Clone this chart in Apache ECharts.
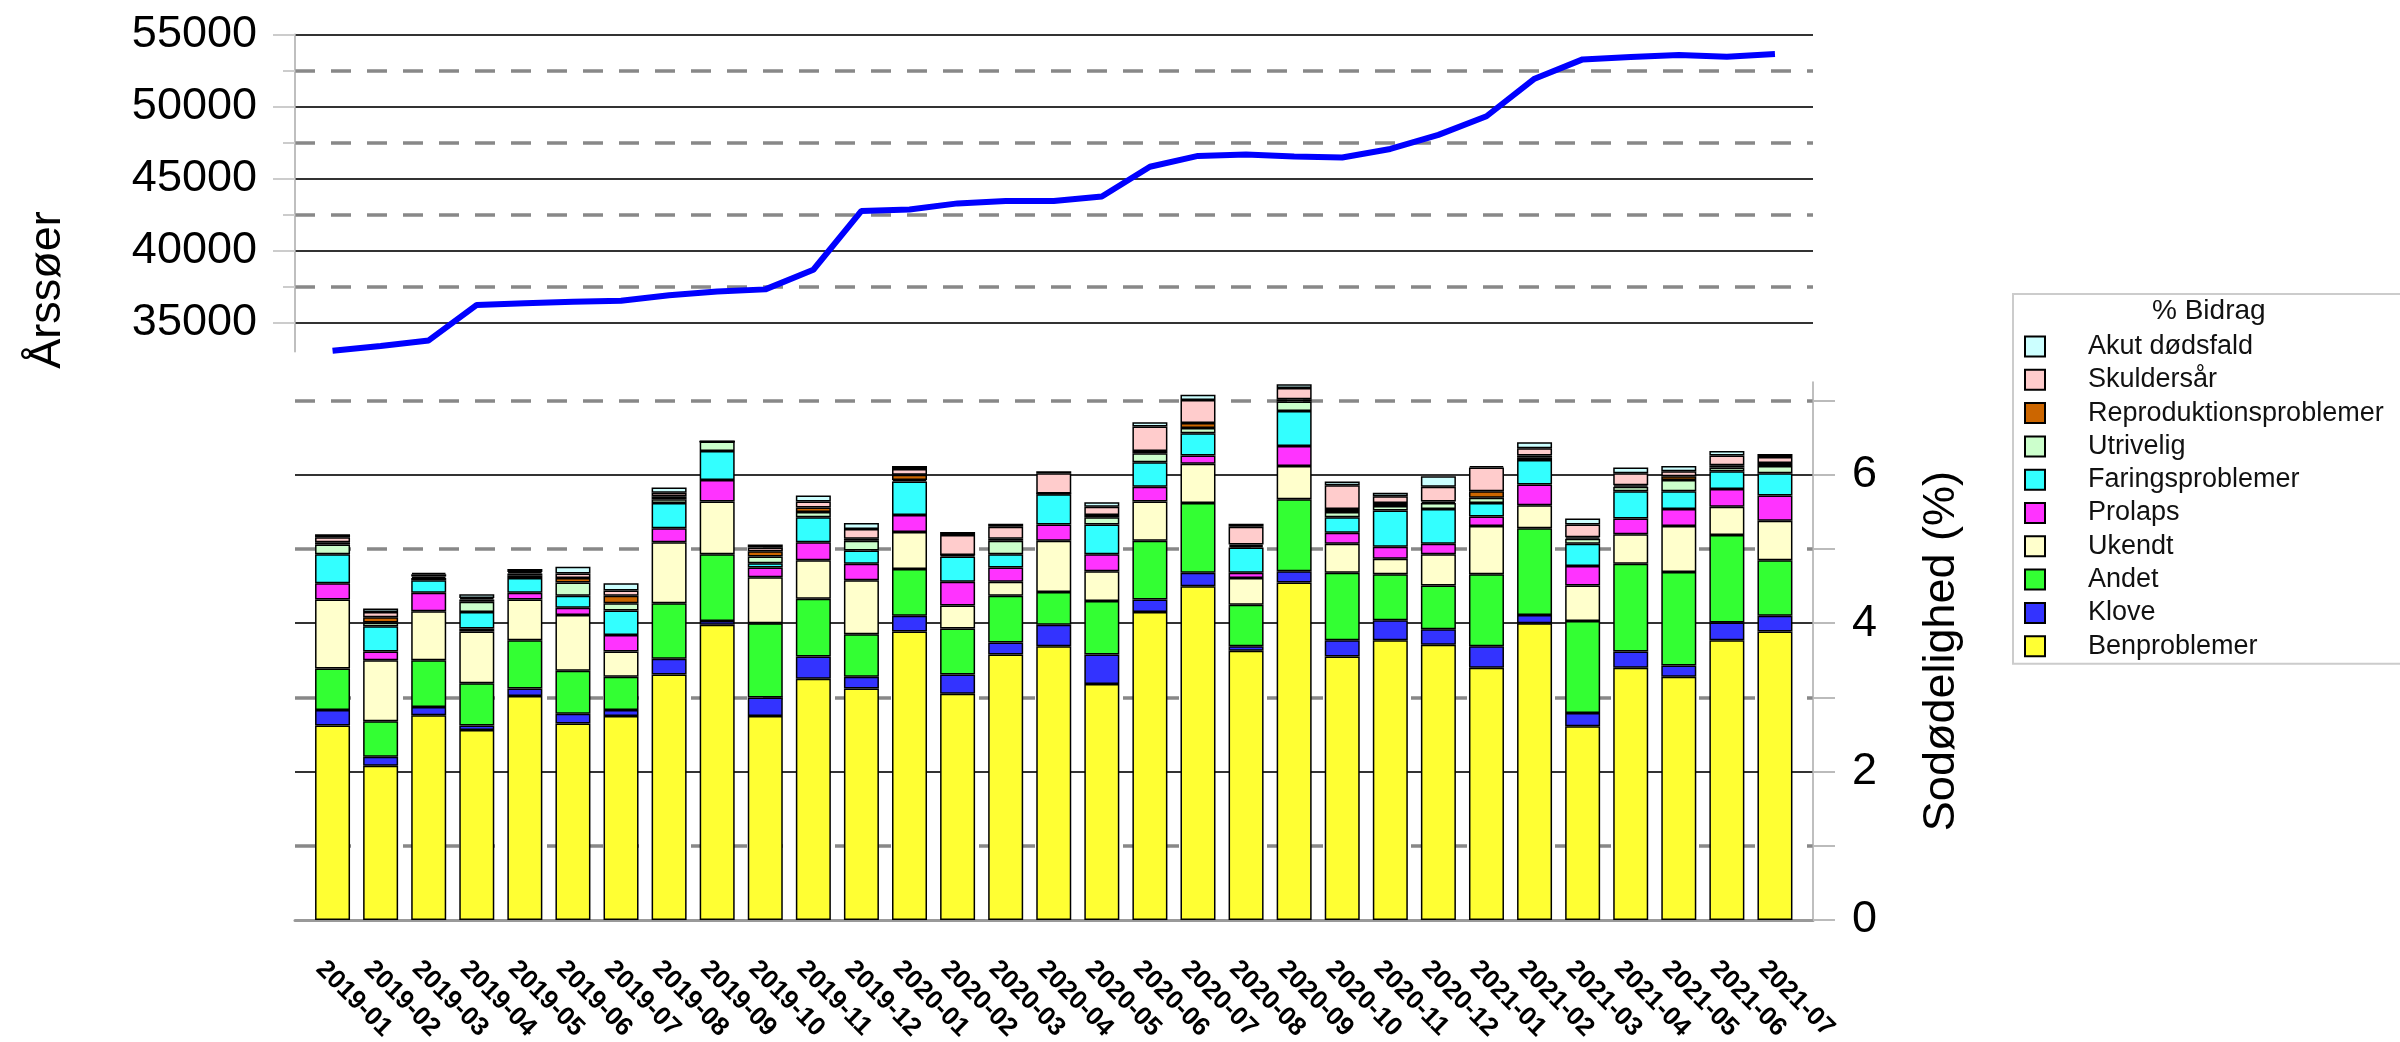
<!DOCTYPE html>
<html>
<head>
<meta charset="utf-8">
<title>Sodødelighed</title>
<script src="https://cdn.jsdelivr.net/npm/echarts@6.0.0/dist/echarts.min.js"></script>
<style>
  html, body { margin: 0; padding: 0; background: #fff; }
  #chart { width: 2400px; height: 1042px; }
</style>
</head>
<body>
<div id="chart"></div>
<script>
var months = ['2019-01','2019-02','2019-03','2019-04','2019-05','2019-06','2019-07','2019-08','2019-09','2019-10','2019-11','2019-12',
              '2020-01','2020-02','2020-03','2020-04','2020-05','2020-06','2020-07','2020-08','2020-09','2020-10','2020-11','2020-12',
              '2021-01','2021-02','2021-03','2021-04','2021-05','2021-06','2021-07'];

// årssøer (øverste kurve)
var aarssoer = [33060, 33400, 33780, 36240, 36360, 36460, 36530, 36910, 37170, 37320, 38680, 42760, 42860, 43280, 43440, 43440,
                43760, 45820, 46570, 46670, 46530, 46460, 47050, 48030, 49320, 51920, 53260, 53420, 53560, 53450, 53630];

// % bidrag til sodødelighed
var benproblemer = [2.62, 2.08, 2.76, 2.56, 3.02, 2.65, 2.75, 3.31, 3.98, 2.75, 3.25, 3.12, 3.89, 3.05, 3.58, 3.69, 3.18, 4.15, 4.50, 3.63, 4.55, 3.55, 3.77, 3.71, 3.40, 4.00, 2.61, 3.40, 3.28, 3.77, 3.89];
var klove = [0.21, 0.12, 0.11, 0.06, 0.10, 0.13, 0.08, 0.21, 0.05, 0.25, 0.30, 0.16, 0.21, 0.26, 0.16, 0.29, 0.40, 0.17, 0.18, 0.06, 0.15, 0.22, 0.27, 0.21, 0.29, 0.11, 0.18, 0.22, 0.15, 0.24, 0.21];
var andet = [0.56, 0.48, 0.63, 0.57, 0.65, 0.58, 0.45, 0.75, 0.90, 1.00, 0.78, 0.57, 0.63, 0.62, 0.63, 0.44, 0.72, 0.79, 0.94, 0.56, 0.97, 0.91, 0.62, 0.59, 0.97, 1.17, 1.24, 1.18, 1.26, 1.18, 0.75];
var ukendt = [0.93, 0.82, 0.66, 0.70, 0.55, 0.75, 0.34, 0.82, 0.71, 0.62, 0.52, 0.73, 0.50, 0.31, 0.19, 0.69, 0.40, 0.53, 0.53, 0.36, 0.45, 0.39, 0.21, 0.42, 0.65, 0.31, 0.48, 0.40, 0.62, 0.38, 0.53];
var prolaps = [0.22, 0.12, 0.25, 0.04, 0.09, 0.10, 0.22, 0.19, 0.29, 0.13, 0.24, 0.22, 0.23, 0.32, 0.19, 0.22, 0.23, 0.20, 0.11, 0.07, 0.27, 0.15, 0.16, 0.14, 0.13, 0.28, 0.26, 0.21, 0.23, 0.24, 0.34];
var faringsproblemer = [0.39, 0.34, 0.17, 0.22, 0.20, 0.16, 0.33, 0.34, 0.39, 0.06, 0.34, 0.18, 0.45, 0.34, 0.18, 0.41, 0.40, 0.33, 0.30, 0.34, 0.47, 0.21, 0.49, 0.47, 0.18, 0.33, 0.30, 0.37, 0.24, 0.24, 0.30];
var utrivelig = [0.13, 0.05, 0.03, 0.14, 0.03, 0.18, 0.10, 0.05, 0.13, 0.09, 0.07, 0.13, 0.02, 0.02, 0.18, 0.01, 0.10, 0.12, 0.07, 0.02, 0.13, 0.07, 0.06, 0.08, 0.07, 0.03, 0.07, 0.06, 0.15, 0.05, 0.10];
var reproduktion = [0.03, 0.07, 0.02, 0.03, 0.03, 0.06, 0.10, 0.04, 0, 0.07, 0.06, 0.03, 0.07, 0, 0.03, 0, 0.03, 0.03, 0.07, 0.02, 0.03, 0.04, 0.04, 0.02, 0.09, 0.03, 0.02, 0.02, 0.05, 0.03, 0.04];
var skulderssaar = [0.07, 0.07, 0.03, 0.02, 0.02, 0.06, 0.07, 0.05, 0, 0.05, 0.08, 0.13, 0.08, 0.27, 0.16, 0.27, 0.11, 0.33, 0.31, 0.24, 0.15, 0.32, 0.09, 0.20, 0.32, 0.10, 0.17, 0.16, 0.07, 0.13, 0.08];
var akutDoedsfald = [0.04, 0.05, 0.02, 0.05, 0.04, 0.09, 0.10, 0.07, 0, 0.04, 0.08, 0.08, 0.04, 0.04, 0.04, 0.03, 0.06, 0.06, 0.07, 0.04, 0.05, 0.05, 0.05, 0.14, 0.02, 0.08, 0.08, 0.08, 0.07, 0.06, 0.04];

var topTicks = [35000, 40000, 45000, 50000, 55000];
var topDashTicks = [37500, 42500, 47500, 52500];
var bottomTicks = [0, 1, 2, 3, 4, 5, 6, 7];

// stabel-rækkefølge nedefra
var stack = [
    ['Benproblemer', benproblemer, '#ffff33'],
    ['Klove', klove, '#3333ff'],
    ['Andet', andet, '#33ff33'],
    ['Ukendt', ukendt, '#ffffcc'],
    ['Prolaps', prolaps, '#ff33ff'],
    ['Faringsproblemer', faringsproblemer, '#33ffff'],
    ['Utrivelig', utrivelig, '#ccffcc'],
    ['Reproduktionsproblemer', reproduktion, '#cc6600'],
    ['Skuldersår', skulderssaar, '#ffcccc'],
    ['Akut dødsfald', akutDoedsfald, '#ccffff']
];

var font = 'Liberation Sans, Arial, sans-serif';
var none = 'rgba(0,0,0,0)';

// en farve pr. split-linje, så kun udvalgte linjer ses
function lineColors(ticks, test, col) {
    var out = [];
    for (var k = 0; k < ticks.length; k++) {
        out.push(test(ticks[k]) ? col : none);
    }
    out.push(none);
    return out;
}
var botSolid = lineColors(bottomTicks, function (v) { return v % 2 === 0 && v > 0; }, '#333');
var botDash = lineColors(bottomTicks, function (v) { return v % 2 === 1; }, '#888');

var series = [{
    name: 'Årssøer',
    type: 'line',
    xAxisIndex: 1,
    yAxisIndex: 2,
    data: aarssoer,
    symbol: 'none',
    showSymbol: false,
    lineStyle: { color: '#0000ff', width: 6 },
    itemStyle: { color: '#0000ff' },
    z: 5
}];
for (var i = 0; i < stack.length; i++) {
    series.push({
        name: stack[i][0],
        type: 'bar',
        stack: 'bidrag',
        xAxisIndex: 3,
        yAxisIndex: 5,
        barWidth: 35,
        data: stack[i][1],
        itemStyle: { color: stack[i][2], borderColor: '#000', borderWidth: 1.5 }
    });
}

var legendOrder = [];
for (var j = stack.length - 1; j >= 0; j--) {
    legendOrder.push(stack[j][0]);
}

var chart = echarts.init(document.getElementById('chart'));
var option = {
    backgroundColor: '#fff',
    animation: false,
    textStyle: { fontFamily: font },
    title: {
        text: '% Bidrag',
        left: 2152,
        top: 297,
        padding: 0,
        textStyle: { fontSize: 28, fontWeight: 'normal', color: '#111', fontFamily: font }
    },
    legend: {
        orient: 'vertical',
        left: 2013,
        top: 294,
        padding: [39, 40, 4, 11],
        borderColor: '#ccc',
        borderWidth: 2,
        icon: 'rect',
        itemWidth: 20,
        itemHeight: 20,
        itemGap: 6.3,
        data: legendOrder,
        textStyle: { fontSize: 27, lineHeight: 27, color: '#111', padding: [0, 0, 0, 38], fontFamily: font }
    },
    grid: [
        { left: 295, top: 34.3, width: 1518, height: 317.4, outerBoundsMode: 'none' },
        { left: 308.5, top: 34.3, width: 1490.5, height: 317.4, outerBoundsMode: 'none' },
        { left: 295, top: 382.1, width: 1518, height: 537.9, outerBoundsMode: 'none' },
        { left: 308.5, top: 382.1, width: 1490.5, height: 537.9, outerBoundsMode: 'none' },
        // kun til månedsetiketterne, lidt forskudt mod venstre
        { left: 296, top: 382.1, width: 1490.5, height: 537.9, outerBoundsMode: 'none' }
    ],
    xAxis: [
        { gridIndex: 0, type: 'category', data: months, show: false },
        { gridIndex: 1, type: 'category', data: months, show: false },
        {
            gridIndex: 2, type: 'category', data: months,
            axisLine: { lineStyle: { color: '#999', width: 3 } },
            axisTick: { show: false },
            axisLabel: { show: false },
            splitLine: { show: false }
        },
        {
            gridIndex: 3, type: 'category', data: months,
            axisLine: { show: false },
            axisTick: { show: false },
            axisLabel: { show: false },
            splitLine: { show: false }
        },
        {
            gridIndex: 4, type: 'category', data: months,
            axisLine: { show: false },
            axisTick: { show: false },
            splitLine: { show: false },
            axisLabel: {
                interval: 0, rotate: -45, margin: 45,
                fontSize: 26, fontWeight: 'bold', color: '#000', fontFamily: font
            }
        }
    ],
    yAxis: [
        {
            gridIndex: 0, type: 'value', position: 'left',
            min: 33000, max: 55000, interval: 500,
            name: 'Årssøer', nameLocation: 'middle', nameGap: 225,
            nameTextStyle: { fontSize: 45, color: '#000', fontFamily: font, padding: [0, 194, 0, 0] },
            axisLine: { show: true, lineStyle: { color: '#aaa', width: 1.5 } },
            axisTick: { show: true, length: 22, customValues: topTicks, lineStyle: { color: '#ccc', width: 2 } },
            axisLabel: {
                fontSize: 45, color: '#000', margin: 38, fontFamily: font,
                formatter: function (v) { return v % 5000 === 0 ? String(v) : ''; }
            },
            splitLine: { show: true, lineStyle: { color: '#333', width: 2 } }
        },
        {
            gridIndex: 0, type: 'value', position: 'left',
            min: 33000, max: 55000, interval: 500,
            axisLine: { show: false },
            axisTick: { show: true, length: 12, customValues: topDashTicks, lineStyle: { color: '#ccc', width: 2 } },
            axisLabel: { show: false },
            splitLine: { show: true, lineStyle: { color: '#888', width: 3.5, type: [20, 16] } }
        },
        { gridIndex: 1, type: 'value', min: 33000, max: 55000, show: false },
        {
            gridIndex: 2, type: 'value', position: 'right',
            min: 0, max: 7.25, interval: 1,
            name: 'Sodødelighed (%)', nameLocation: 'middle', nameGap: 106,
            nameTextStyle: { fontSize: 45, color: '#000', fontFamily: font },
            axisLine: { show: true, lineStyle: { color: '#aaa', width: 1.5 } },
            axisTick: { show: true, length: 22, customValues: bottomTicks, lineStyle: { color: '#bbb', width: 2 } },
            axisLabel: {
                fontSize: 45, color: '#000', margin: 39, fontFamily: font,
                formatter: function (v) { return (v % 2 === 0 && v <= 6) ? String(v) : ''; }
            },
            splitLine: { show: true, lineStyle: { color: botSolid, width: 2 } }
        },
        {
            gridIndex: 2, type: 'value', position: 'right',
            min: 0, max: 7.25, interval: 1,
            axisLine: { show: false },
            axisTick: { show: false },
            axisLabel: { show: false },
            splitLine: { show: true, lineStyle: { color: botDash, width: 3.5, type: [20, 16] } }
        },
        { gridIndex: 3, type: 'value', min: 0, max: 7.25, show: false },
        { gridIndex: 4, type: 'value', min: 0, max: 7.25, show: false }
    ],
    series: series
};
chart.setOption(option);
</script>
</body>
</html>
